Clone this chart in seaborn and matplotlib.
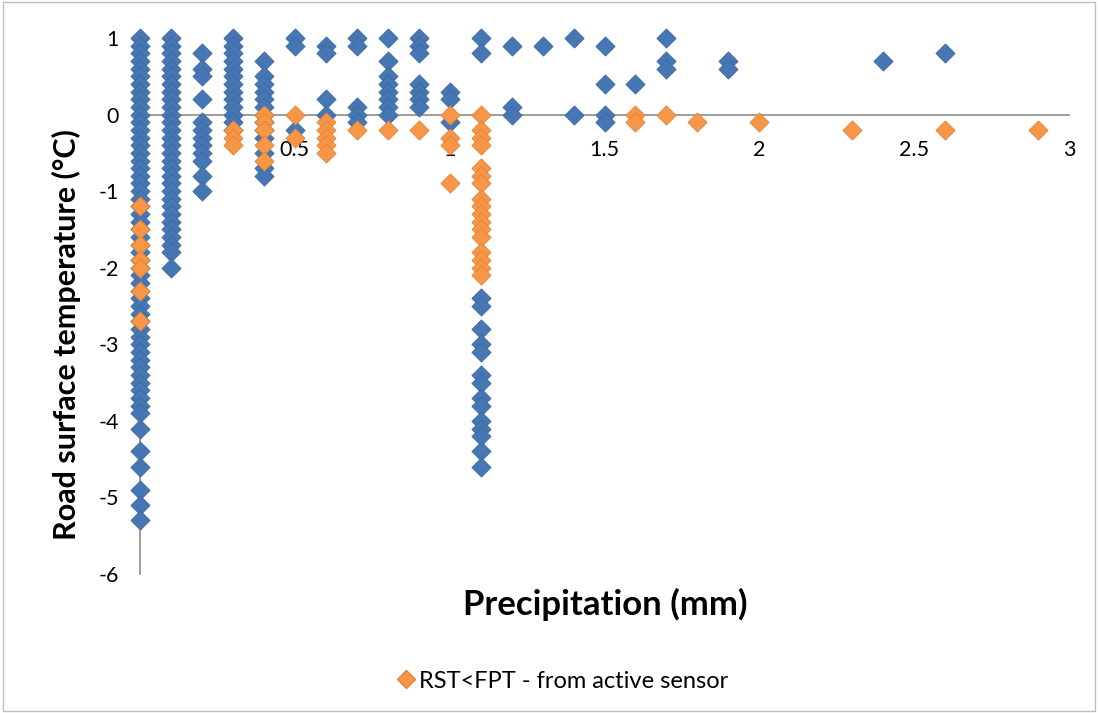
import matplotlib
matplotlib.use("Agg")
import matplotlib.pyplot as plt
import matplotlib.patches as mpatches
from matplotlib.lines import Line2D
import seaborn as sns
import pandas as pd

# ---------------- data ----------------
# Series 1 (blue): all observations
blue_precip = [0.0, 0.1, 0.2, 0.3, 0.4, 0.5, 0.6, 0.7, 0.8, 0.9, 1.0, 1.1,
               1.2, 1.3, 1.4, 1.5, 1.6, 1.7, 1.9, 2.4, 2.6]
blue_temps = [
    [1.0, 0.9, 0.8, 0.7, 0.6, 0.5, 0.4, 0.3, 0.2, 0.1, 0.0, -0.1, -0.2, -0.3,
     -0.4, -0.5, -0.6, -0.7, -0.8, -0.9, -1.0, -1.1, -1.2, -1.3, -1.4, -1.5,
     -1.6, -1.7, -1.8, -1.9, -2.0, -2.1, -2.2, -2.3, -2.4, -2.5, -2.6, -2.7,
     -2.8, -2.9, -3.0, -3.1, -3.2, -3.3, -3.4, -3.5, -3.6, -3.7, -3.8, -3.9,
     -4.1, -4.4, -4.6, -4.9, -5.1, -5.3],
    [1.0, 0.9, 0.8, 0.7, 0.6, 0.5, 0.4, 0.3, 0.2, 0.1, 0.0, -0.1, -0.2, -0.3,
     -0.4, -0.5, -0.6, -0.7, -0.8, -0.9, -1.0, -1.1, -1.2, -1.3, -1.4, -1.5,
     -1.6, -1.7, -1.8, -2.0],
    [0.8, 0.6, 0.5, 0.2, -0.1, -0.2, -0.3, -0.4, -0.5, -0.6, -0.8, -1.0],
    [1.0, 0.9, 0.8, 0.7, 0.6, 0.5, 0.4, 0.3, 0.2, 0.1, 0.0, -0.1, -0.2],
    [0.7, 0.5, 0.4, 0.3, 0.2, 0.1, 0.0, -0.1, -0.2, -0.3, -0.5, -0.7, -0.8],
    [1.0, 0.9, -0.2],
    [0.9, 0.8, 0.2, 0.0],
    [1.0, 0.9, 0.1, 0.0, -0.1],
    [1.0, 0.7, 0.5, 0.4, 0.3, 0.2, 0.1, 0.0],
    [1.0, 0.9, 0.8, 0.4, 0.3, 0.2, 0.1],
    [0.3, 0.2, -0.1],
    [1.0, 0.8, -2.4, -2.5, -2.8, -3.0, -3.1, -3.4, -3.5, -3.7, -3.8, -4.0,
     -4.1, -4.2, -4.4, -4.6],
    [0.9, 0.1, 0.0],
    [0.9],
    [1.0, 0.0],
    [0.9, 0.4, 0.0, -0.1],
    [0.4],
    [1.0, 0.7, 0.6],
    [0.7, 0.6],
    [0.7],
    [0.8],
]

# Series 2 (orange): RST<FPT - from active sensor
orange_precip = [0.0, 0.3, 0.4, 0.5, 0.6, 0.7, 0.8, 0.9, 1.0, 1.1,
                 1.6, 1.7, 1.8, 2.0, 2.3, 2.6, 2.9]
orange_temps = [
    [-1.2, -1.5, -1.7, -1.9, -2.0, -2.3, -2.7],
    [-0.2, -0.3, -0.4],
    [0.0, -0.1, -0.2, -0.4, -0.6],
    [0.0, -0.3],
    [-0.1, -0.2, -0.3, -0.4, -0.5],
    [-0.2],
    [-0.2],
    [-0.2],
    [0.0, -0.3, -0.4, -0.9],
    [0.0, -0.2, -0.3, -0.4, -0.7, -0.8, -0.9, -1.1, -1.2, -1.3, -1.4, -1.5,
     -1.6, -1.8, -1.9, -2.0, -2.1],
    [0.0, -0.1],
    [0.0],
    [-0.1],
    [-0.1],
    [-0.2],
    [-0.2],
    [-0.2],
]

x_ticks = [0, 0.5, 1, 1.5, 2, 2.5, 3]
x_tick_labels = ["0", "0.5", "1", "1.5", "2", "2.5", "3"]
y_ticks = [1, 0, -1, -2, -3, -4, -5, -6]
y_tick_labels = ["1", "0", "-1", "-2", "-3", "-4", "-5", "-6"]
series_label = "RST<FPT - from active sensor"


def to_frame(precip, temps):
    rows = []
    for p, ts in zip(precip, temps):
        for t in ts:
            rows.append((p, t))
    return pd.DataFrame(rows, columns=["precip", "temp"])


blue_df = to_frame(blue_precip, blue_temps)
orange_df = to_frame(orange_precip, orange_temps)

# ---------------- style ----------------
sns.set_style("white")
plt.rcParams["font.family"] = ["Lato", "DejaVu Sans"]
plt.rcParams["text.color"] = "black"

BLUE = "#4676B3"
BLUE_EDGE = "#3D6AA2"
ORANGE = "#F79646"
ORANGE_EDGE = "#E0843A"
AXIS_GRAY = "#8C8C8C"

fig = plt.figure(figsize=(10.98, 7.13), dpi=100)
ax = fig.add_axes([140 / 1098, 1 - 574 / 713, (1069 - 140) / 1098, (574 - 38) / 713])

sns.scatterplot(data=blue_df, x="precip", y="temp", ax=ax, marker="D", s=95,
                color=BLUE, edgecolor=BLUE_EDGE, linewidth=0.6, clip_on=False,
                zorder=2, legend=False)
sns.scatterplot(data=orange_df, x="precip", y="temp", ax=ax, marker="D", s=95,
                color=ORANGE, edgecolor=ORANGE_EDGE, linewidth=0.6, clip_on=False,
                zorder=2.1, legend=False)

ax.set_xlim(0, 3)
ax.set_ylim(-6, 1)

for side in ["top", "right"]:
    ax.spines[side].set_visible(False)
ax.spines["bottom"].set_position(("data", 0))
for side in ["left", "bottom"]:
    ax.spines[side].set_color(AXIS_GRAY)
    ax.spines[side].set_linewidth(1.2)
    ax.spines[side].set_zorder(1)

ax.set_xticks(x_ticks)
ax.set_xticklabels(x_tick_labels)
ax.set_yticks(y_ticks)
ax.set_yticklabels(y_tick_labels)
ax.tick_params(axis="x", direction="out", length=5, width=1.2, color=AXIS_GRAY,
               labelsize=15.5, pad=13, labelcolor="black")
ax.tick_params(axis="y", direction="out", length=5, width=1.2, color=AXIS_GRAY,
               labelsize=15.5, pad=10, labelcolor="black")

ax.set_xlabel("")
ax.set_ylabel("")
fig.text(605 / 1098, 1 - 604 / 713, "Precipitation (mm)", ha="center", va="center",
         fontsize=25, fontweight="bold", color="black")
fig.text(66 / 1098, 1 - 335 / 713, "Road surface temperature (°C)", ha="center",
         va="center", rotation=90, fontsize=22, fontweight="bold", color="black")

handle = Line2D([], [], linestyle="none", marker="D", markersize=9,
                markerfacecolor=ORANGE, markeredgecolor=ORANGE_EDGE)
fig.legend([handle], [series_label], loc="center",
           bbox_to_anchor=(562 / 1098, 1 - 681 / 713), frameon=False,
           fontsize=17, handletextpad=0.1, handlelength=0.9, labelcolor="black")

border = mpatches.Rectangle((3 / 1098, 2 / 713), 1092 / 1098, 709 / 713,
                            transform=fig.transFigure, fill=False,
                            edgecolor="#BFBFBF", linewidth=1.0)
fig.add_artist(border)

fig.savefig("out.png", dpi=100)
